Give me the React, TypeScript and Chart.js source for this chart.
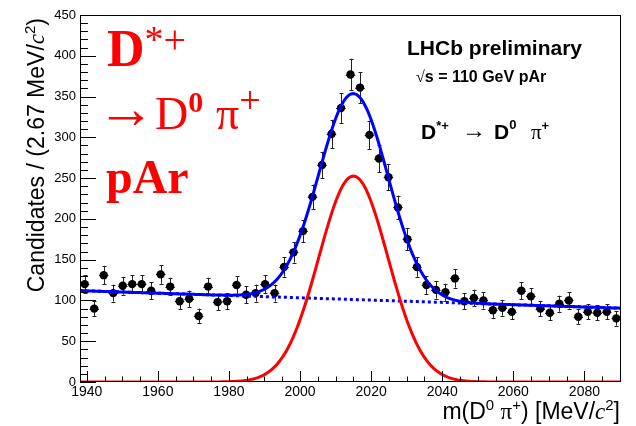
import React, { useEffect, useRef } from "react";
import { Chart, registerables } from "chart.js";

Chart.register(...registerables);

// ---- data ----
const X_MIN = 1938.1;
const BIN_WIDTH = 2.67;
const COUNTS = [
  120, 90, 131, 109, 118, 120, 120, 112, 132, 117,
  99, 102, 81, 117, 98, 99, 119, 107, 109, 120,
  109, 141, 159, 185, 227, 266, 304, 336, 377, 361,
  303, 274, 251, 214, 175, 141, 119, 113, 110, 127,
  99, 103, 100, 88, 91, 86, 112, 105, 90, 85,
  96, 100, 80, 86, 85, 86, 78,
];
const X_MAX = X_MIN + BIN_WIDTH * COUNTS.length;
const X_TICKS = [1940, 1960, 1980, 2000, 2020, 2040, 2060, 2080];
const Y_TICKS = [0, 50, 100, 150, 200, 250, 300, 350, 400, 450];
const Y_MIN = 0;
const Y_MAX = 450;

// fit parameters
const SIG_MEAN = 2015.0;
const SIG_SIGMA = 9.7;
const SIG_AMP = 252.5;
const BKG_AT_MIN = 112;
const BKG_AT_MAX = 90.5;
const CURVE_STEP = 0.5;

const SANS = '"Liberation Sans", Arial, Helvetica, sans-serif';
const SERIF = '"Liberation Serif", "Times New Roman", serif';

function binCenter(i: number) {
  return X_MIN + BIN_WIDTH * (i + 0.5);
}
function bkg(x: number) {
  return BKG_AT_MIN + ((x - X_MIN) * (BKG_AT_MAX - BKG_AT_MIN)) / (X_MAX - X_MIN);
}
function sig(x: number) {
  const z = (x - SIG_MEAN) / SIG_SIGMA;
  return SIG_AMP * Math.exp(-0.5 * z * z);
}

type Run = { t: string; font: string; dy?: number; x?: number };

function drawRuns(ctx: CanvasRenderingContext2D, x0: number, y0: number, runs: Run[]) {
  let cx = x0;
  for (const r of runs) {
    ctx.font = r.font;
    const px = r.x !== undefined ? r.x : cx;
    ctx.fillText(r.t, px, y0 + (r.dy || 0));
    cx = px + ctx.measureText(r.t).width;
  }
}
function runsWidth(ctx: CanvasRenderingContext2D, runs: Run[]) {
  let w = 0;
  for (const r of runs) {
    ctx.font = r.font;
    w += ctx.measureText(r.t).width;
  }
  return w;
}

const rootPlugin = {
  id: "rootStyle",
  beforeDatasetsDraw(chart: any) {
    const ctx = chart.ctx as CanvasRenderingContext2D;
    const xs = chart.scales.x;
    const ys = chart.scales.y;
    ctx.save();
    ctx.strokeStyle = "#222";
    ctx.lineWidth = 1;
    COUNTS.forEach((n, i) => {
      const xc = binCenter(i);
      const err = Math.sqrt(n);
      const px = Math.round(xs.getPixelForValue(xc)) + 0.5;
      const pyTop = ys.getPixelForValue(n + err);
      const pyBot = ys.getPixelForValue(n - err);
      const py = ys.getPixelForValue(n);
      const pxL = xs.getPixelForValue(xc - BIN_WIDTH / 2);
      const pxR = xs.getPixelForValue(xc + BIN_WIDTH / 2);
      ctx.beginPath();
      ctx.moveTo(px, pyTop);
      ctx.lineTo(px, pyBot);
      ctx.moveTo(px - 2, Math.round(pyTop) + 0.5);
      ctx.lineTo(px + 2, Math.round(pyTop) + 0.5);
      ctx.moveTo(px - 2, Math.round(pyBot) + 0.5);
      ctx.lineTo(px + 2, Math.round(pyBot) + 0.5);
      ctx.moveTo(pxL, Math.round(py) + 0.5);
      ctx.lineTo(pxR, Math.round(py) + 0.5);
      ctx.stroke();
    });
    ctx.restore();
  },
  afterDraw(chart: any) {
    const ctx = chart.ctx as CanvasRenderingContext2D;
    const xs = chart.scales.x;
    const ys = chart.scales.y;
    const a = chart.chartArea;
    ctx.save();
    // frame
    ctx.strokeStyle = "#000";
    ctx.lineWidth = 1;
    ctx.strokeRect(Math.round(a.left) + 0.5, Math.round(a.top) + 0.5, Math.round(a.right - a.left) - 1, Math.round(a.bottom - a.top) - 1);
    // y ticks
    ctx.beginPath();
    for (let v = Y_MIN; v <= Y_MAX + 1e-6; v += 10) {
      const py = Math.round(ys.getPixelForValue(v)) + 0.5;
      const major = Math.abs(v % 50) < 1e-6;
      const len = major ? 16 : 8;
      ctx.moveTo(a.left, py);
      ctx.lineTo(a.left + len, py);
    }
    // x ticks
    for (let v = 1940; v <= X_MAX; v += 5) {
      const px = Math.round(xs.getPixelForValue(v)) + 0.5;
      const major = Math.abs(v % 20) < 1e-6;
      const len = major ? 11 : 5.5;
      ctx.moveTo(px, a.bottom);
      ctx.lineTo(px, a.bottom - len);
    }
    ctx.stroke();

    // axis titles
    ctx.fillStyle = "#000";
    ctx.textBaseline = "alphabetic";
    ctx.textAlign = "left";
    const tf = 23;
    const nf = `${tf}px ${SANS}`;
    const sf = `${Math.round(tf * 0.65)}px ${SANS}`;
    const cf = `italic ${tf}px ${SERIF}`;
    const yRuns: Run[] = [
      { t: "Candidates / (2.67 MeV/", font: nf },
      { t: "c", font: cf },
      { t: "2", font: sf, dy: -9 },
      { t: ")", font: nf },
    ];
    const yw = runsWidth(ctx, yRuns);
    ctx.save();
    ctx.translate(44, 18 + yw);
    ctx.rotate(-Math.PI / 2);
    drawRuns(ctx, 0, 0, yRuns);
    ctx.restore();

    const xRuns: Run[] = [
      { t: "m(D", font: nf },
      { t: "0", font: sf, dy: -9 },
      { t: " ", font: nf },
      { t: "\u03c0", font: `${tf}px ${SERIF}` },
      { t: "+", font: sf, dy: -9 },
      { t: ") [MeV/", font: nf },
      { t: "c", font: cf },
      { t: "2", font: sf, dy: -9 },
      { t: "]", font: nf },
    ];
    const xw = runsWidth(ctx, xRuns);
    drawRuns(ctx, 620 - xw, 419, xRuns);

    // red labels
    ctx.fillStyle = "#ff0000";
    drawRuns(ctx, 107, 66, [
      { t: "D", font: `bold 52px ${SERIF}` },
      { t: "*", font: `38px ${SERIF}`, dy: -14 },
      { t: "+", font: `40px ${SERIF}`, dy: -13 },
    ]);
    drawRuns(ctx, 97, 129, [
      { t: "\u2192", font: `58px ${SERIF}`, dy: -1 },
      { t: "D", font: `46px ${SERIF}`, x: 155 },
      { t: "0", font: `bold 30px ${SERIF}`, dy: -17 },
      { t: "\u03c0", font: `46px ${SERIF}`, x: 216 },
      { t: "+", font: `38px ${SERIF}`, dy: -16 },
    ]);
    drawRuns(ctx, 106, 193, [{ t: "pAr", font: `bold 48px ${SERIF}` }]);

    // black labels
    ctx.fillStyle = "#000";
    drawRuns(ctx, 407, 55, [{ t: "LHCb preliminary", font: `bold 21px ${SANS}` }]);
    drawRuns(ctx, 416, 82, [
      { t: "\u221a", font: `16px ${SERIF}` },
      { t: "s = 110 GeV pAr", font: `bold 16px ${SANS}` },
    ]);
    drawRuns(ctx, 421, 139, [
      { t: "D", font: `bold 21px ${SANS}` },
      { t: "*+", font: `bold 13px ${SANS}`, dy: -9 },
      { t: "\u2192", font: `24px ${SERIF}`, x: 462, dy: -1 },
      { t: "D", font: `bold 21px ${SANS}`, x: 494 },
      { t: "0", font: `bold 13px ${SANS}`, dy: -10 },
      { t: "\u03c0", font: `21px ${SERIF}`, x: 531 },
      { t: "+", font: `bold 13px ${SANS}`, dy: -9 },
    ]);
    ctx.restore();
  },
};

export default function App() {
  const ref = useRef<HTMLCanvasElement>(null);
  useEffect(() => {
    if (!ref.current) return;
    const xsCurve: number[] = [];
    for (let x = X_MIN; x <= X_MAX + 1e-9; x += CURVE_STEP) xsCurve.push(x);
    const total = xsCurve.map((x) => ({ x, y: sig(x) + bkg(x) }));
    const signal = xsCurve.map((x) => ({ x, y: sig(x) }));
    const background = xsCurve.map((x) => ({ x, y: bkg(x) }));
    const points = COUNTS.map((n, i) => ({ x: binCenter(i), y: n }));

    const chart = new Chart(ref.current, {
      type: "scatter",
      data: {
        datasets: [
          { type: "line", data: total, borderColor: "#0000ff", borderWidth: 3, pointRadius: 0, fill: false, tension: 0 } as any,
          { type: "line", data: signal, borderColor: "#ff0000", borderWidth: 3, pointRadius: 0, fill: false, tension: 0 } as any,
          { type: "line", data: background, borderColor: "#0000ff", borderWidth: 3, borderDash: [3, 3], pointRadius: 0, fill: false, tension: 0 } as any,
          { type: "scatter", data: points, pointRadius: 4.2, backgroundColor: "#000", borderColor: "#000", borderWidth: 0 } as any,
        ],
      },
      options: {
        animation: false,
        responsive: false,
        devicePixelRatio: 1,
        layout: { padding: { left: 0, right: 15, top: 15, bottom: 0 } },
        plugins: { legend: { display: false }, tooltip: { enabled: false } },
        scales: {
          x: {
            type: "linear",
            min: X_MIN,
            max: X_MAX,
            grid: { display: false, drawTicks: false },
            border: { display: false },
            afterFit: (s: any) => { s.height = 44; },
            afterBuildTicks: (s: any) => { s.ticks = X_TICKS.map((v) => ({ value: v })); },
            ticks: { font: { family: SANS, size: 14 }, color: "#000", padding: 2, maxRotation: 0, autoSkip: false, callback: (v: any) => String(v) },
          },
          y: {
            type: "linear",
            min: Y_MIN,
            max: Y_MAX,
            grid: { display: false, drawTicks: false },
            border: { display: false },
            afterFit: (s: any) => { s.width = 80; },
            afterBuildTicks: (s: any) => { s.ticks = Y_TICKS.map((v) => ({ value: v })); },
            ticks: { font: { family: SANS, size: 13 }, color: "#000", padding: 4, autoSkip: false, callback: (v: any) => String(v) },
          },
        },
      } as any,
      plugins: [rootPlugin],
    });
    return () => chart.destroy();
  }, []);
  return (
    <div style={{ position: "absolute", left: 0, top: 0, width: 636, height: 426 }}>
      <canvas ref={ref} width={636} height={426} style={{ display: "block" }} />
    </div>
  );
}
